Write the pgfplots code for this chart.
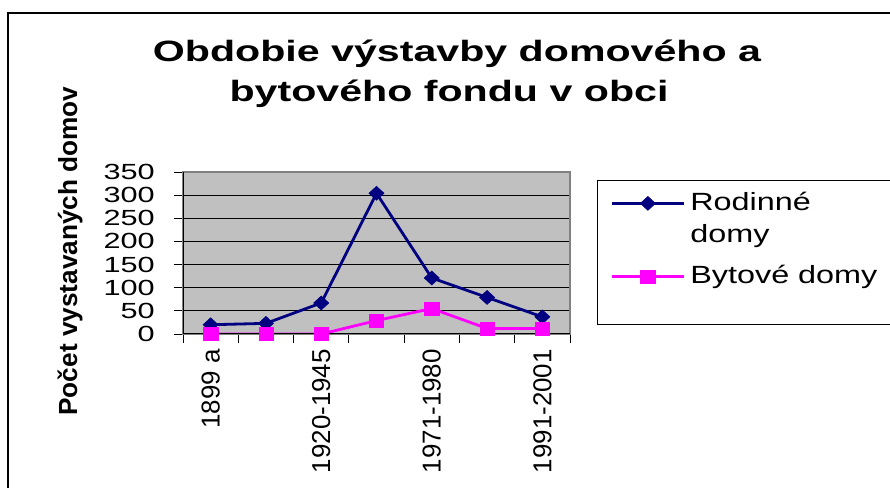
\documentclass[border=0pt]{standalone}
\usepackage{fontspec}
\setmainfont{Liberation Sans}
\newfontfamily\wide[FakeStretch=1.4]{Liberation Sans}
\newfontfamily\legfont[FakeStretch=1.3]{Liberation Sans}
\usepackage{pgfplots}
\pgfplotsset{compat=1.18}
\definecolor{navy}{RGB}{0,0,128}
\definecolor{pinkm}{RGB}{255,0,255}
\definecolor{plotgray}{RGB}{192,192,192}
\definecolor{bordergray}{RGB}{128,128,128}
\pgfplotsset{
  legimg/.style={legend image code/.code={
    \path (0bp,#1);
    \draw[mark repeat=2,mark phase=2,##1] plot coordinates {(13bp,#1) (49bp,#1) (85bp,#1)};
  }},
}
\begin{document}
\begin{tikzpicture}
\clip (0,0) rectangle (890bp,488bp);
\draw[line width=2.5bp] (8bp,-5bp) -- (8bp,475bp) -- (895bp,475bp);
% title
\node[anchor=base, inner sep=0pt, font=\wide\bfseries\fontsize{29.5}{36}\selectfont] at (457bp,426bp) {Obdobie výstavby domového a};
\node[anchor=base, inner sep=0pt, font=\wide\bfseries\fontsize{29.5}{36}\selectfont] at (449bp,386bp) {bytového fondu v obci};
% y label
\node[rotate=90, anchor=base, inner sep=0pt, font=\bfseries\fontsize{26.3}{26}\selectfont] at (77bp,237bp) {Počet vystavaných domov};
\begin{axis}[
  at={(183bp,154bp)}, anchor=south west,
  scale only axis, width=387bp, height=162bp,
  xmin=0.5, xmax=7.5, ymin=0, ymax=350,
  tick pos=left,
  xtick={0.5,1.5,...,7.5}, xticklabels={},
  extra x ticks={1,3,5,7},
  extra x tick labels={1899 a,1920-1945,1971-1980,1991-2001},
  extra x tick style={major tick length=0pt,
    xticklabel style={rotate=90, anchor=east, inner sep=0pt,
      font=\fontsize{26}{26}\selectfont}},
  xticklabel shift=15bp,
  ytick={0,50,...,350},
  ymajorgrids, grid style={black, line width=0.9bp},
  tick align=outside, major tick length=9bp,
  tick style={black, line width=0.9bp},
  axis background/.style={fill=plotgray},
  axis line style={draw=bordergray, line width=1.2bp},
  yticklabel style={font=\wide\fontsize{22}{22}\selectfont, inner sep=0pt, xshift=-19bp},
  /pgf/number format/assume math mode=true,
  legend style={at={(1.06977,0.95062)}, anchor=north west,
    draw=black, line width=1bp, fill=white,
    inner xsep=0pt, inner ysep=0pt,
    font=\legfont\fontsize{25}{32}\selectfont,
    cells={anchor=base west}, nodes={inner sep=0pt},
    column sep=5bp, row sep=0pt},
]
\addplot[navy, line width=2.8bp, mark=diamond*, mark size=7bp,
  mark options={solid, xscale=1.45, line width=0.5bp}, legimg=39bp]
  coordinates {(1,20) (2,23) (3,67) (4,304) (5,121) (6,79) (7,37)};
\addlegendentry{\parbox[b]{230bp}{\rule{0pt}{30bp}Rodinné\\domy}}
\addplot[pinkm, line width=2.8bp, mark=square*, mark size=6.5bp,
  mark options={solid, xscale=1.1, line width=0.5bp}, legimg=7bp]
  coordinates {(1,0) (2,0) (3,0) (4,29) (5,55) (6,12) (7,12)};
\addlegendentry{\parbox[b]{230bp}{\rule{0pt}{40bp}Bytové domy}}
\addlegendimage{empty legend}
\addlegendentry{\rule{0pt}{38bp}}
\draw[black, line width=1.2bp] (rel axis cs:0,1) -- (rel axis cs:0,0) -- (rel axis cs:1,0);
\end{axis}
\end{tikzpicture}
\end{document}
